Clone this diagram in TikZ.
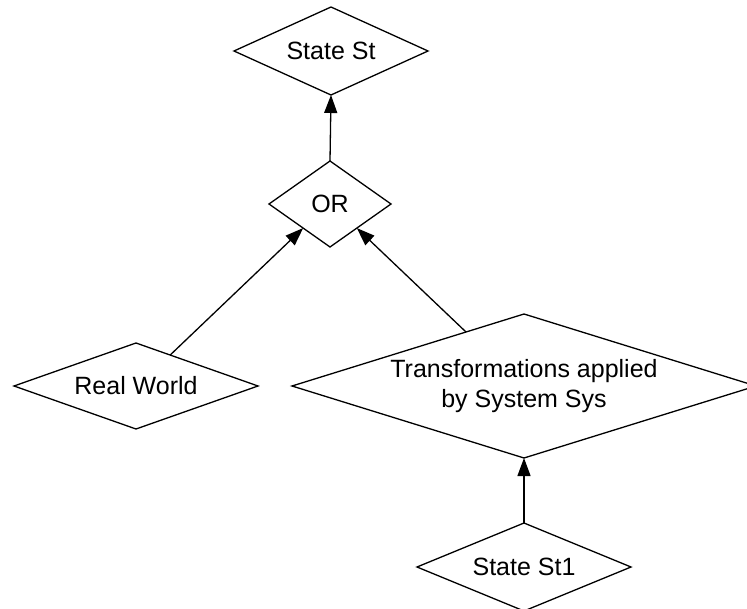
\documentclass[tikz,border=0pt]{standalone}
\usepackage{fontspec}
\setmainfont{Liberation Sans}
\usetikzlibrary{shapes.geometric,arrows.meta,calc}
\begin{document}
\begin{tikzpicture}[x=1pt,y=-1pt,
  dia/.style={diamond,draw=black,line width=1.3pt,inner sep=0pt,outer sep=0pt,fill=white},
  lbl/.style={font=\fontsize{25}{30}\selectfont,align=center},
  conn/.style={draw=black,line width=1.3pt,-{Triangle[length=18pt,width=13pt]}}]
\useasboundingbox (0,0) rectangle (747,609);
\node[dia,minimum width=194pt,minimum height=88pt] (st) at (331,51) {};
\node[lbl] (stt) at (st.center) {State St};
\node[dia,minimum width=122pt,minimum height=86pt] (or) at (330,204) {};
\node[lbl] (ort) at (or.center) {OR};
\node[dia,minimum width=244pt,minimum height=86pt] (rw) at (136,386) {};
\node[lbl] (rwt) at (rw.center) {Real World};
\node[dia,minimum width=464pt,minimum height=144pt] (tr) at (524,386) {};
\node[lbl] (trt) at (tr.center) {Transformations applied\\by System Sys};
\node[dia,minimum width=214pt,minimum height=88pt] (st1) at (524,567) {};
\node[lbl] (st1t) at (st1.center) {State St1};
\coordinate (rwout) at ($(rw.north)!0.28!(rw.east)$);
\coordinate (orin1) at ($(or.west)!0.56!(or.south)$);
\coordinate (trout) at ($(tr.north)!0.25!(tr.west)$);
\coordinate (orin2) at ($(or.east)!0.56!(or.south)$);
\draw[conn] (or.north) -- (st.south);
\draw[conn] (rwout) -- (orin1);
\draw[conn] (trout) -- (orin2);
\draw[conn] (st1.north) -- (tr.south);
\end{tikzpicture}
\end{document}
